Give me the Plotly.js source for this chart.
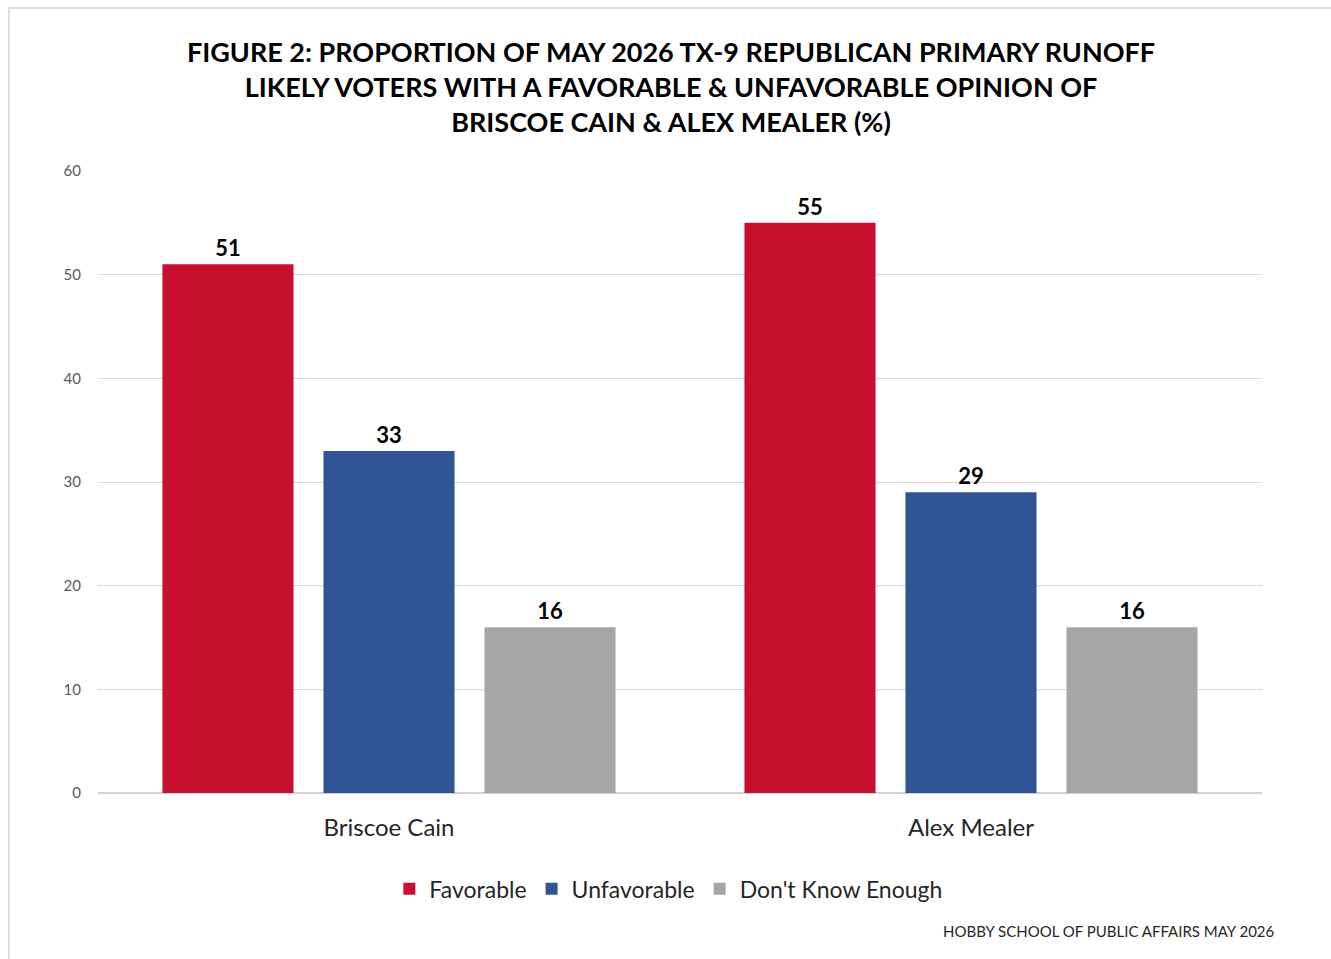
<!DOCTYPE html>
<html>
<head>
<meta charset="utf-8">
<script src="https://cdn.plot.ly/plotly-3.0.1.min.js"></script>
<style>
  html, body { margin: 0; padding: 0; background: #fff; }
  #wrap { position: relative; width: 1331px; height: 959px; }
  #chart { width: 1331px; height: 959px; }
  #frame { position: absolute; left: 8px; top: 7px; width: 1330px; height: 960px;
           border: 2px solid #dcdcdc; pointer-events: none; box-sizing: border-box; }
</style>
</head>
<body>
<div id="wrap">
  <div id="chart"></div>
  <div id="frame"></div>
</div>
<script>
const categories = ["Briscoe Cain", "Alex Mealer"];
const favorable = [51, 55];
const unfavorable = [33, 29];
const dontKnow = [16, 16];
const seriesNames = ["Favorable", "Unfavorable", "Don't Know Enough"];
const yTicks = [0, 10, 20, 30, 40, 50, 60];
const titleText = "FIGURE 2: PROPORTION OF MAY 2026 TX-9 REPUBLICAN PRIMARY RUNOFF<br>LIKELY VOTERS WITH A FAVORABLE &amp; UNFAVORABLE OPINION OF<br>BRISCOE CAIN &amp; ALEX MEALER (%)";
const sourceText = "HOBBY SCHOOL OF PUBLIC AFFAIRS MAY 2026";

const font = "Lato, 'Open Sans', sans-serif";
const colors = ["#C8102E", "#2F5597", "#A5A5A5"];
const values = [favorable, unfavorable, dontKnow];

const traces = values.map((v, i) => ({
  type: "bar",
  name: seriesNames[i],
  x: categories,
  y: v,
  text: v.map(String),
  textposition: "outside",
  cliponaxis: false,
  textfont: { family: font, size: 22, color: "#000", weight: "bold" },
  marker: { color: colors[i], line: { width: 0 } },
  hoverinfo: "x+y+name"
}));

const layout = {
  width: 1331,
  height: 959,
  paper_bgcolor: "#fff",
  plot_bgcolor: "#fff",
  margin: { l: 98, r: 69, t: 171, b: 166 },
  barmode: "group",
  bargap: 0.17,
  bargroupgap: 0.186,
  font: { family: font, color: "#262626" },
  title: {
    text: titleText,
    x: 0.4923,
    xanchor: "center",
    xref: "paper",
    y: 1 - 62 / 959,
    yref: "container",
    yanchor: "top",
    font: { family: font, size: 27, color: "#000", weight: "bold" }
  },
  xaxis: {
    type: "category",
    showgrid: false,
    showline: false,
    zeroline: false,
    ticks: "",
    tickfont: { family: font, size: 24, color: "#262626" },
    ticklabelstandoff: 18
  },
  yaxis: {
    range: [0, 60],
    tickvals: yTicks,
    ticktext: yTicks.map(String),
    showgrid: true,
    gridcolor: "#d9d9d9",
    gridwidth: 1,
    zeroline: true,
    zerolinecolor: "#d0d0d0",
    zerolinewidth: 1.5,
    showline: false,
    ticks: "",
    ticklabelstandoff: 16,
    tickfont: { family: font, size: 15, color: "#595959" }
  },
  showlegend: true,
  legend: {
    orientation: "h",
    x: 0.49,
    xanchor: "center",
    y: -0.154,
    yanchor: "middle",
    font: { family: font, size: 23, color: "#262626" },
    itemwidth: 30,
    traceorder: "normal"
  },
  annotations: [{
    text: sourceText,
    xref: "paper", yref: "paper",
    x: 1.0125, y: -0.222,
    xanchor: "right", yanchor: "middle",
    showarrow: false,
    font: { family: font, size: 15, color: "#262626" }
  }]
};

Plotly.newPlot("chart", traces, layout, { displayModeBar: false, staticPlot: true });
</script>
</body>
</html>
